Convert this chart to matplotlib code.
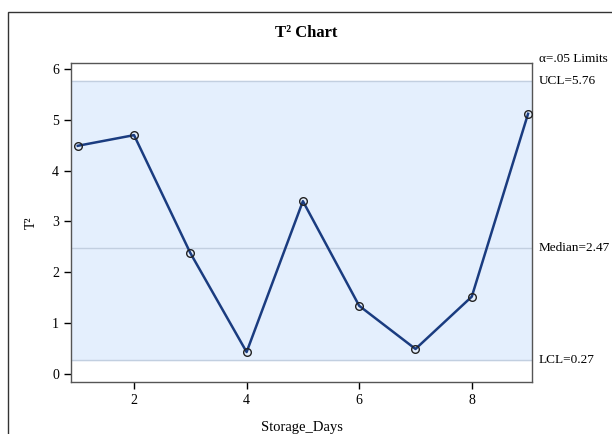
import matplotlib
matplotlib.use("Agg")
import matplotlib.pyplot as plt
import matplotlib.patches as mpatches

# Data
days = [1, 2, 3, 4, 5, 6, 7, 8, 9]
t2 = [4.49, 4.70, 2.38, 0.43, 3.40, 1.34, 0.49, 1.52, 5.12]
ucl = 5.76
median = 2.47
lcl = 0.27

plt.rcParams["font.family"] = ["Liberation Serif", "DejaVu Serif"]

fig = plt.figure(figsize=(6.12, 4.34), dpi=100)
ax = fig.add_axes([71 / 612, 1 - 382 / 434, (532 - 71) / 612, (382 - 63) / 434])

# outer border (cut off at right/bottom)
fig.patches.append(mpatches.Rectangle((8 / 612, -0.1), 1.2, 1 - 12 / 434 + 0.1,
                                      transform=fig.transFigure, fill=False,
                                      edgecolor="#333333", linewidth=1.0))

ax.axhspan(lcl, ucl, color="#e4effd", zorder=0)
for v in (ucl, median, lcl):
    ax.axhline(v, color="#c2cfe0", linewidth=1.0, zorder=1)

ax.plot(days, t2, color="#1a3c80", linewidth=1.8, zorder=2)
ax.plot(days, t2, linestyle="none", marker="o", markersize=5.5,
        markerfacecolor="none", markeredgecolor="#222222", markeredgewidth=1.0, zorder=3)

ax.set_xlim(0.88, 9.07)
ax.set_ylim(-0.16, 6.12)
ax.set_xticks([2, 4, 6, 8])
ax.set_yticks([0, 1, 2, 3, 4, 5, 6])
ax.tick_params(labelsize=10, colors="#000000", length=5, width=1)
for s in ax.spines.values():
    s.set_edgecolor("#555555")
    s.set_linewidth(1.0)
ax.set_xlabel("Storage_Days", fontsize=10.5, labelpad=10)
ax.set_ylabel("T²", fontsize=10, labelpad=10)

fig.text(0.5, 1 - 33 / 434, "T² Chart", ha="center", va="center",
         fontsize=12, fontweight="bold")

tx = 539 / 612
fig.text(tx, 1 - 59 / 434, "α=.05 Limits", ha="left", va="center", fontsize=9.5)
for v, lab in ((ucl, f"UCL={ucl:.2f}"), (median, f"Median={median:.2f}"), (lcl, f"LCL={lcl:.2f}")):
    ax.annotate(lab, xy=(1.0, v), xycoords=("axes fraction", "data"),
                xytext=(5, 0), textcoords="offset points", ha="left", va="center",
                fontsize=9.5, annotation_clip=False)

plt.savefig("out.png", dpi=100)
